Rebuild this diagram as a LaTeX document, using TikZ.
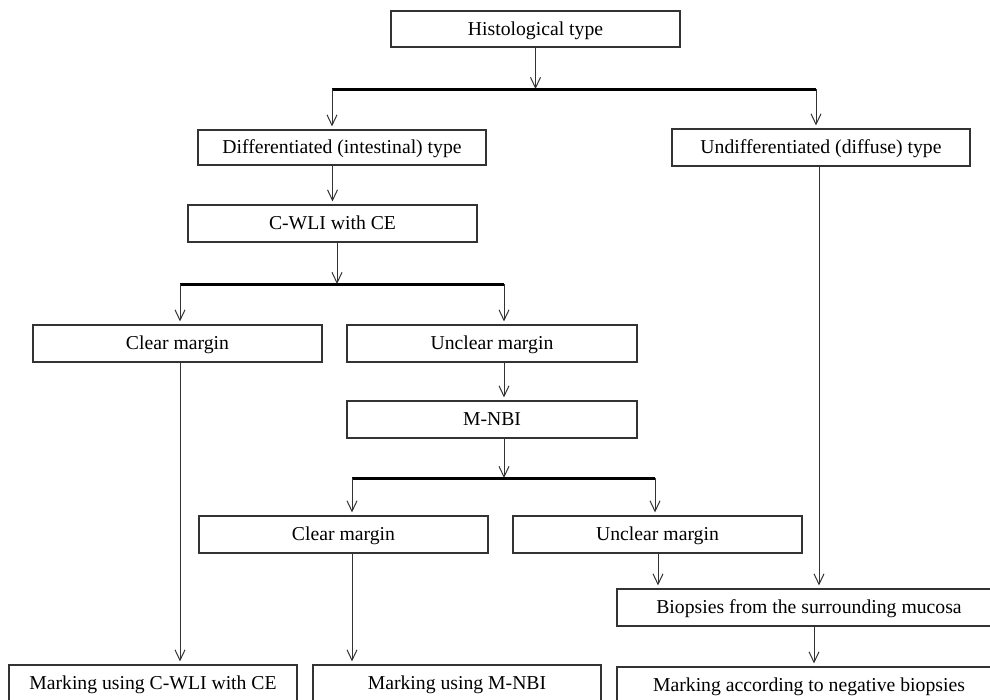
\documentclass[tikz,border=0pt]{standalone}
\usepackage{fontspec}
\setmainfont{Liberation Serif}
\usetikzlibrary{arrows.meta,calc}
\begin{document}
\begin{tikzpicture}[x=1pt,y=-1pt,
  box/.style={draw=black!80, line width=1.1pt, inner sep=0pt, minimum height=37pt, minimum width=289pt, text height=16pt, text depth=4pt, font=\fontsize{19.7}{22}\selectfont},
  arrb/.style={draw=black!80, line width=1pt, -{Straight Barb[length=10.5pt,width=10pt,line width=1pt]}},
  arr/.style={arrb, shorten >=3pt},
  bar/.style={draw=black, line width=3pt}]
\path[use as bounding box, clip] (0,0) rectangle (990,699);
\fill[white] (0,0) rectangle (990,699);
% nodes
\node[box, minimum height=36pt] (hist) at (535.5,29) {Histological type};
\node[box, minimum width=288pt, minimum height=35pt] (diff) at (342,147.5) {Differentiated (intestinal) type};
\node[box, minimum width=298pt, minimum height=37pt] (undiff) at (821,147.5) {Undifferentiated (diffuse) type};
\node[box] (cwli) at (332.5,223.5) {C-WLI with CE};
\node[box] (clear1) at (177.5,343.5) {Clear margin};
\node[box, minimum width=290pt] (unclear1) at (492,343.5) {Unclear margin};
\node[box, minimum width=290pt] (mnbi) at (492,419.5) {M-NBI};
\node[box] (clear2) at (343.5,534.5) {Clear margin};
\node[box] (unclear2) at (657.5,534.5) {Unclear margin};
\node[box, minimum width=384pt] (biop) at (809,607.5) {Biopsies from the surrounding mucosa};
\node[box, minimum width=288pt] (mk1) at (153,683.5) {Marking using C-WLI with CE};
\node[box, minimum width=288pt] (mk2) at (457,683.5) {Marking using M-NBI};
\node[box, minimum width=384pt] (mk3) at (809,685.5) {Marking according to negative biopsies};
% branch coordinates
\coordinate (b1l) at (332,89);
\coordinate (b1r) at (816,89);
\coordinate (b2l) at (180,284);
\coordinate (b2r) at (504,284);
\coordinate (b3l) at (352,478);
\coordinate (b3r) at (655,478);
% connectors
\draw[arrb] (hist.south) -- (hist.south |- b1l);
\draw[bar] (b1l) -- (b1r);
\draw[arr] (b1l) -- (b1l |- diff.north);
\draw[arr] (b1r) -- (b1r |- undiff.north);
\draw[arr] (diff.south -| cwli.north) -- (cwli.north);
\draw[arrb] ([xshift=4.5pt]cwli.south) -- ([xshift=4.5pt]cwli.south |- b2l);
\draw[bar] (b2l) -- (b2r);
\draw[arr] (b2l) -- (b2l |- clear1.north);
\draw[arr] (b2r) -- (b2r |- unclear1.north);
\draw[arr] (clear1.south -| b2l) -- (b2l |- mk1.north);
\draw[arr] (unclear1.south -| b2r) -- (b2r |- mnbi.north);
\draw[arrb] (mnbi.south -| b2r) -- (b2r |- b3l);
\draw[bar] (b3l) -- (b3r);
\draw[arr] (b3l) -- (b3l |- clear2.north);
\draw[arr] (b3r) -- (b3r |- unclear2.north);
\draw[arr] (clear2.south -| b3l) -- (b3l |- mk2.north);
\draw[arr] ([xshift=0.5pt]unclear2.south) -- ([xshift=0.5pt]unclear2.south |- biop.north);
\draw[arr] ([xshift=-2pt]undiff.south) -- ([xshift=-2pt]undiff.south |- biop.north);
\draw[arr] ([xshift=5pt]biop.south) -- ([xshift=5pt]biop.south |- mk3.north);
\end{tikzpicture}
\end{document}
